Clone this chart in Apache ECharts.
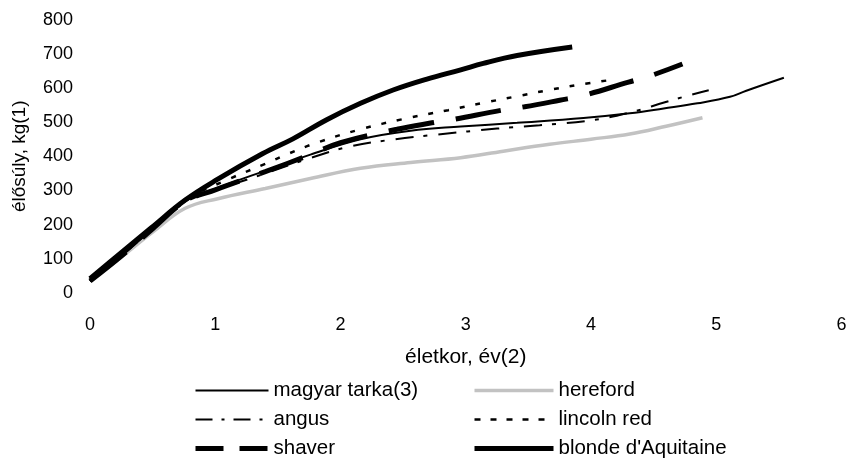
<!DOCTYPE html>
<html>
<head>
<meta charset="utf-8">
<script src="https://cdn.jsdelivr.net/npm/echarts@6/dist/echarts.min.js"></script>
<style>
html,body{margin:0;padding:0;background:#fff;}
#chart{width:850px;height:458px;}
</style>
</head>
<body>
<div id="chart"></div>
<script>
// ---- data (age in years, live weight in kg) ----
const seriesNames = ['magyar tarka(3)', 'hereford', 'angus', 'lincoln red', 'shaver', "blonde d'Aquitaine"];
const xTicks = [0, 1, 2, 3, 4, 5, 6];
const yTicks = [0, 100, 200, 300, 400, 500, 600, 700, 800];

const magyarTarka = [[0,35],[0.25,108],[0.5,188],[0.76,268],[1,305],[1.4,358],[1.76,405],[2.16,450],[2.56,475],[2.96,487],[3.41,498],[3.94,512],[4.31,526],[4.58,540],[4.85,555],[5.11,574],[5.24,592],[5.54,630]];
const hereford = [[0,35],[0.25,105],[0.5,178],[0.76,248],[1.02,276],[1.4,306],[1.76,335],[2.16,365],[2.56,382],[2.96,396],[3.3,415],[3.67,435],[4.0,450],[4.31,465],[4.6,488],[4.89,513]];
const angus = [[0,35],[0.25,108],[0.5,188],[0.76,265],[1,300],[1.4,350],[1.76,395],[2.09,430],[2.44,450],[2.78,464],[3.25,481],[3.59,491],[4.0,505],[4.3,527],[4.59,558],[4.77,577],[4.94,593]];
const lincolnRed = [[0,35],[0.25,110],[0.5,190],[0.76,272],[1.12,335],[1.4,378],[1.58,407],[1.82,441],[2.16,479],[2.5,509],[2.86,535],[3.15,557],[3.4,575],[3.65,593],[3.9,609],[4.15,623]];
const shaver = [[0,35],[0.25,108],[0.5,188],[0.76,268],[1,302],[1.4,355],[1.76,405],[2,440],[2.45,479],[2.73,498],[2.9,508],[3.29,535],[3.47,545],[3.75,564],[3.93,577],[4.3,617],[4.47,635],[4.73,670]];
const blonde = [[0,42],[0.23,112],[0.49,191],[0.76,272],[1.02,333],[1.38,408],[1.62,451],[1.89,507],[2.16,555],[2.42,594],[2.69,626],[2.96,653],[3.14,672],[3.41,695],[3.85,720]];

const seriesData = [magyarTarka, hereford, angus, lincolnRed, shaver, blonde];

// ---- styles ----
const styles = [
  {color:'#000', width:2, type:'solid'},
  {color:'#c2c2c2', width:3.5, type:'solid'},
  {color:'#000', width:2, type:[18,10,4,11]},
  {color:'#000', width:2.5, type:[5,11]},
  {color:'#000', width:5, type:[46,22]},
  {color:'#000', width:5, type:'solid'}
];
const legendDash = ['solid', 'solid', [17,9,3,9], [6,10], [28,16], 'solid'];

const FONT = '"Liberation Sans", Arial, sans-serif';
const chart = echarts.init(document.getElementById('chart'), null, {renderer:'canvas'});

const series = seriesNames.map((n, i) => ({
  name: n,
  type: 'line',
  data: seriesData[i],
  smooth: 0.4,
  showSymbol: false,
  symbol: 'none',
  lineStyle: {color: styles[i].color, width: styles[i].width, type: styles[i].type, cap: 'butt'},
  itemStyle: {color: styles[i].color},
  z: i === 1 ? 1 : 2,
  animation: false
}));

function legendItems(idx) {
  return idx.map(i => ({
    name: seriesNames[i],
    itemStyle: {color: 'rgba(0,0,0,0)', borderWidth: 0, opacity: 0},
    lineStyle: {color: styles[i].color, width: styles[i].width, type: legendDash[i], cap: 'butt'}
  }));
}

const legendText = {fontFamily: FONT, fontSize: 20.5, color: '#000'};

const option = {
  backgroundColor: '#fff',
  animation: false,
  textStyle: {fontFamily: FONT},
  grid: {left: 90, right: 8.5, top: 19.6, bottom: 165, containLabel: false},
  xAxis: {
    type: 'value', min: xTicks[0], max: xTicks[xTicks.length-1], interval: 1,
    name: 'életkor, év(2)', nameLocation: 'middle', nameGap: 54,
    nameTextStyle: {fontFamily: FONT, fontSize: 21, color: '#000'},
    axisLine: {show: false}, axisTick: {show: false}, splitLine: {show: false},
    axisLabel: {fontFamily: FONT, fontSize: 18, color: '#000', margin: 23}
  },
  yAxis: {
    type: 'value', min: yTicks[0], max: yTicks[yTicks.length-1], interval: 100,
    name: 'élősúly, kg(1)', nameLocation: 'middle', nameGap: 61,
    nameTextStyle: {fontFamily: FONT, fontSize: 19, color: '#000'},
    axisLine: {show: false}, axisTick: {show: false}, splitLine: {show: false},
    axisLabel: {fontFamily: FONT, fontSize: 18, color: '#000', margin: 17}
  },
  legend: [
    {
      orient: 'vertical', left: 193, top: 380, width: 260, height: 120,
      itemWidth: 73, itemHeight: 14, itemGap: 8,
      padding: 0,
      textStyle: legendText,
      selectedMode: false,
      data: legendItems([0, 2, 4])
    },
    {
      orient: 'vertical', left: 472, top: 380, width: 300, height: 120,
      itemWidth: 79, itemHeight: 14, itemGap: 8,
      padding: 0,
      textStyle: legendText,
      selectedMode: false,
      data: legendItems([1, 3, 5])
    }
  ],
  series: series
};
chart.setOption(option);
</script>
</body>
</html>
